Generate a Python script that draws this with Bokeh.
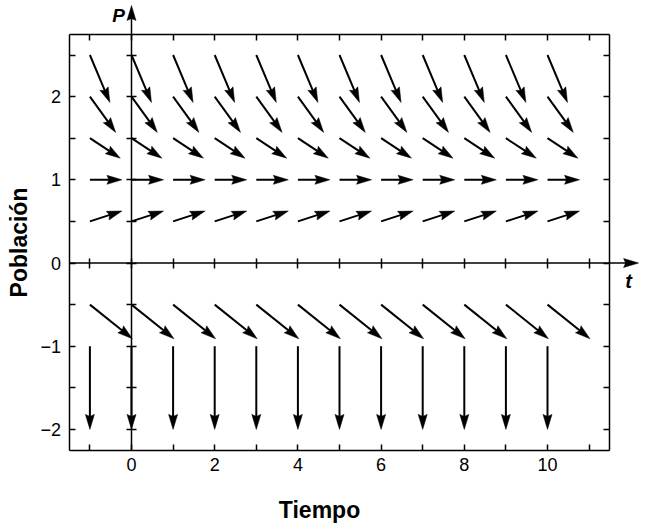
import math
from bokeh.plotting import figure
from bokeh.models import Range1d, LinearAxis, FixedTicker, Label
from bokeh.embed import file_html
from bokeh.resources import INLINE

# ---------------- data ----------------
T_POINTS = list(range(-1, 11))                      # t positions of arrow tails
P_ROWS = [2.5, 2.0, 1.5, 1.0, 0.5, -0.5, -1.0]      # P positions of arrow tails
DT = [0.48, 0.62, 0.73, 0.77, 0.77, 1.02, 0.0]      # arrow extent along t
DP = [-0.57, -0.43, -0.24, 0.0, 0.125, -0.41, -1.0] # arrow extent along P

X_MAJOR = [0, 2, 4, 6, 8, 10]
X_MINOR = [-1, 1, 3, 5, 7, 9, 11]
X_ALL = list(range(-1, 12))
Y_MAJOR = [-2, -1, 0, 1, 2]
Y_MINOR = [-1.5, -0.5, 0.5, 1.5, 2.5]
Y_ALL = sorted(Y_MAJOR + Y_MINOR)
Y_LABELS = {-2: "−2", -1: "−1"}

BOX_X = (-1.5, 11.5)
BOX_Y = (-2.25, 2.75)
T_AXIS_TIP = 12.19
P_AXIS_TIP = 3.095

# ---------------- layout ----------------
W, H = 651, 527
PX_X, PX_Y = 41.6, 83.2
ORIGIN = (131.0, 262.5)
x_start = -ORIGIN[0] / PX_X
x_end = (W - ORIGIN[0]) / PX_X
y_end = ORIGIN[1] / PX_Y
y_start = (ORIGIN[1] - H) / PX_Y

FONT = "Liberation Sans"

p = figure(width=W, height=H, x_range=Range1d(x_start, x_end), y_range=Range1d(y_start, y_end),
           output_backend="svg", toolbar_location=None, min_border=0,
           x_axis_type=None, y_axis_type=None)
p.outline_line_color = None
p.background_fill_color = "white"
p.border_fill_color = "white"


def axis(side, loc, bounds, major, minor, tin, tout, line=True, **kw):
    ax = LinearAxis(fixed_location=loc, bounds=bounds,
                    ticker=FixedTicker(ticks=major, minor_ticks=minor),
                    major_tick_in=tin, major_tick_out=tout,
                    minor_tick_in=tin, minor_tick_out=tout,
                    axis_line_color="black" if line else None, axis_line_width=1.5,
                    major_tick_line_color="black", major_tick_line_width=1.5,
                    minor_tick_line_color="black", minor_tick_line_width=1.5,
                    major_label_text_font=FONT, major_label_text_font_size="18px",
                    major_label_text_color="black",
                    axis_label_text_font=FONT, axis_label_text_font_style="bold",
                    axis_label_text_font_size="23px", axis_label_text_color="black",
                    **kw)
    p.add_layout(ax, side)
    return ax


# box frame
axis("below", BOX_Y[0], BOX_X, X_MAJOR, X_MINOR, 6, 0, major_label_standoff=8)
axis("left", BOX_X[0], BOX_Y, Y_MAJOR, Y_MINOR, 6, 0,
     major_label_standoff=8, major_label_overrides=Y_LABELS,
     axis_label="Población", axis_label_standoff=6)
axis("above", BOX_Y[1], BOX_X, [], X_ALL, 6, 0)
axis("right", BOX_X[1], BOX_Y, [], Y_ALL, 6, 0)
# central axes (ticks only; lines drawn with arrowheads below)
axis("below", 0, BOX_X, [], X_ALL, 5, 5, line=False)
axis("left", 0, BOX_Y, [], Y_ALL, 5, 5, line=False)

HEAD_L, HEAD_W, NOTCH = 15.0, 4.5, 2.0


def arrow(x0, y0, x1, y1):
    dxp, dyp = (x1 - x0) * PX_X, (y1 - y0) * PX_Y
    n = math.hypot(dxp, dyp)
    ux, uy = dxp / n, dyp / n
    nx, ny = -uy, ux
    bx, by = x1 - HEAD_L * ux / PX_X, y1 - HEAD_L * uy / PX_Y
    mx, my = x1 - (HEAD_L - NOTCH) * ux / PX_X, y1 - (HEAD_L - NOTCH) * uy / PX_Y
    hx = [x1, bx + HEAD_W * nx / PX_X, mx, bx - HEAD_W * nx / PX_X]
    hy = [y1, by + HEAD_W * ny / PX_Y, my, by - HEAD_W * ny / PX_Y]
    ex, ey = x1 - (HEAD_L - 4) * ux / PX_X, y1 - (HEAD_L - 4) * uy / PX_Y
    return (x0, y0, ex, ey), (hx, hy)


seg = {"x0": [], "y0": [], "x1": [], "y1": []}
heads_x, heads_y = [], []
for P, dt, dp in zip(P_ROWS, DT, DP):
    for t in T_POINTS:
        (a, b, c, d), (hx, hy) = arrow(t, P, t + dt, P + dp)
        seg["x0"].append(a); seg["y0"].append(b); seg["x1"].append(c); seg["y1"].append(d)
        heads_x.append(hx); heads_y.append(hy)

p.segment(x0="x0", y0="y0", x1="x1", y1="y1", source=seg, line_color="black", line_width=2)
p.patches(heads_x, heads_y, fill_color="black", line_color="black", line_width=0.5)

# central axes with arrowheads
ax_seg = {"x0": [], "y0": [], "x1": [], "y1": []}
ax_hx, ax_hy = [], []
for (a0, b0, a1, b1) in [(BOX_X[0], 0, T_AXIS_TIP, 0), (0, BOX_Y[0], 0, P_AXIS_TIP)]:
    (a, b, c, d), (hx, hy) = arrow(a0, b0, a1, b1)
    ax_seg["x0"].append(a); ax_seg["y0"].append(b); ax_seg["x1"].append(c); ax_seg["y1"].append(d)
    ax_hx.append(hx); ax_hy.append(hy)
p.segment(x0="x0", y0="y0", x1="x1", y1="y1", source=ax_seg, line_color="black", line_width=1.5)
p.patches(ax_hx, ax_hy, fill_color="black", line_color="black", line_width=0.5)

p.add_layout(Label(x=-0.31, y=2.98, text="P", text_font=FONT, text_font_style="bold italic",
                   text_font_size="19px", text_align="center", text_baseline="middle",
                   text_color="black"))
p.add_layout(Label(x=11.95, y=-0.22, text="t", text_font=FONT, text_font_style="bold italic",
                   text_font_size="20px", text_align="center", text_baseline="middle",
                   text_color="black"))
p.add_layout(Label(x=4.52, y=-2.963, text="Tiempo", text_font=FONT, text_font_style="bold",
                   text_font_size="23px", text_align="center", text_baseline="middle",
                   text_color="black"))

open("out.html", "w").write(file_html(p, INLINE))
